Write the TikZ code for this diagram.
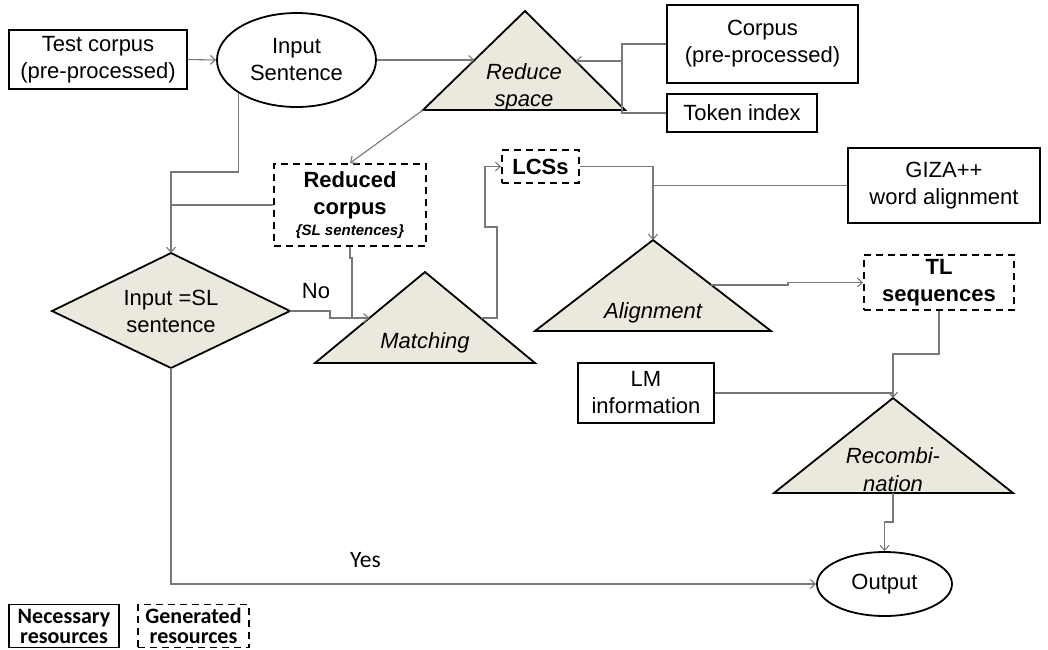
\documentclass[tikz,border=0pt]{standalone}
\usepackage{fontspec}
\setmainfont{Liberation Sans}
\newfontfamily\calfont{Carlito}
\usetikzlibrary{arrows.meta,shapes.geometric,calc}
\definecolor{tri}{RGB}{235,232,222}
\definecolor{conn}{RGB}{120,120,120}
\begin{document}
\begin{tikzpicture}[x=1pt,y=-1pt,
  every node/.style={font=\fontsize{22}{27}\selectfont, align=center, inner sep=0pt},
  res/.style={draw, line width=1.8pt, rectangle},
  gen/.style={draw, line width=1.8pt, dash pattern=on 7pt off 5pt},
  oval/.style={draw, ellipse, line width=1.8pt},
  shp/.style={draw, line width=1.8pt, fill=tri, line join=miter},
  link/.style={draw=conn, line width=1.1pt},
  arr/.style={link, -{Straight Barb[length=5pt,width=9pt]}},
  lbl/.style={font=\fontsize{22}{27}\selectfont\itshape},
  leg/.style={font=\fontsize{22}{20}\calfont\bfseries}
]
\useasboundingbox (0,0) rectangle (1048,649);

% ---- resource boxes ----
\node[res, minimum width=178pt, minimum height=59pt] (testc) at (98,59.5) {Test corpus\\(pre-processed)};
\node[oval, minimum width=159pt, minimum height=94pt] (input) at (296.5,60) {Input\\Sentence};
\node[res, minimum width=191pt, minimum height=78pt] (corpus) at (762.5,44) {Corpus\\(pre-processed)};
\node[res, minimum width=150pt, minimum height=38pt] (token) at (742,113) {Token index};
\node[res, minimum width=192pt, minimum height=75pt] (giza) at (944,185.5) {GIZA++\\word alignment};
\node[res, minimum width=136pt, minimum height=60pt] (lm) at (646,393) {LM\\information};
\node[oval, minimum width=135pt, minimum height=64pt] (output) at (884.5,584) {Output};

% ---- generated resources ----
\node[gen, minimum width=152pt, minimum height=82pt] (redc) at (350,205)
  {\textbf{Reduced}\\\textbf{corpus}\\[-6pt]{\fontsize{15}{18}\selectfont\bfseries\itshape\{SL sentences\}}};
\node[gen, minimum width=77pt, minimum height=33pt] (lcs) at (540.5,166.5) {\textbf{LCSs}};
\node[gen, minimum width=150pt, minimum height=55pt] (tl) at (939,282.5) {\textbf{TL}\\\textbf{sequences}};

% ---- process triangles ----
\draw[shp] (525,11) coordinate (rsA) -- (625,110) coordinate (rsR) -- (423,110) coordinate (rsL) -- cycle;
\node[lbl] (rs) at (524,87) {Reduce\\space};
\draw[shp] (425,272) coordinate (mA) -- (535,363) -- (315,363) -- cycle;
\node[lbl] (match) at (425,343) {Matching};
\draw[shp] (653,240) coordinate (alA) -- (771,331) -- (535,331) -- cycle;
\node[lbl] (align) at (653,313) {Alignment};
\draw[shp] (893,398) coordinate (rcA) -- (1013,493) -- (774,493) -- cycle;
\coordinate (rcB) at (893,493);
\node[lbl] (recomb) at (893,470) {Recombi-\\[1pt]nation};

% ---- decision diamond ----
\draw[shp] (52,311) coordinate (dL) -- (171,253) coordinate (dT) -- (290,311) coordinate (dR) -- (171,368) coordinate (dB) -- cycle;
\node (dec) at (171,311.5) {Input =SL\\sentence};

% ---- connector points on triangle edges ----
\coordinate (rsIn) at (474.5,60);
\coordinate (rsIn2) at (575.5,61);
\coordinate (bk) at (622,61);
\coordinate (mL) at (369.4,318);
\coordinate (mR) at (480.6,318);
\coordinate (alR) at (711,285);
\coordinate (j1) at (171,172);
\coordinate (j3) at (893,354);

% ---- connectors ----
\draw[arr] (testc.east) -- (input.west);
\draw[arr] (input.east) -- (rsIn);
\draw[link] (corpus.west) -| (token.west -| bk) -- (token.west);
\draw[arr] (bk) -- (rsIn2);
\draw[arr] (rsL) -- (redc.north);
\draw[arr] (input.210) |- (j1) -- (dT);
\draw[link] (redc.west) -- (redc.west -| dT);
\draw[arr] (dR) -- (330,311) -- (330,318) -- (mL);
\draw[link] (redc.south) -- (350,258) -- (352,258) -- (352,318);
\draw[arr] (mR) -- (497,318) -- (497,227) -- (485,227) |- (lcs.west);
\draw[arr] (lcs.east) -| (alA);
\draw[link] (giza.west) -- (giza.west -| alA);
\draw[arr] (alR) -- (788,285) -- (788,282.5) -- (tl.west);
\draw[arr] (tl.south) |- (j3) -- (rcA);
\draw[link] (lm.east) -- (lm.east -| rcA);
\draw[arr] (rcB) -- (893,522) -- (884.5,522) -- (output.north);
\draw[arr] (dB) |- (output.west);

% ---- edge labels ----
\node[anchor=base] (no) at (316,298) {No};
\node[anchor=base, font=\fontsize{23.5}{27}\calfont] (yes) at (365.5,567) {Yes};

% ---- legend ----
\node[res, leg, minimum width=110pt, minimum height=43pt] (legn) at (64,626) {Necessary\\resources};
\node[gen, leg, minimum width=111pt, minimum height=43pt] (legg) at (193.5,626) {Generated\\resources};
\end{tikzpicture}
\end{document}
